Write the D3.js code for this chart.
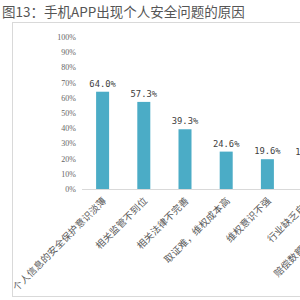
<!DOCTYPE html>
<html>
<head>
<meta charset="utf-8">
<style>
body{ margin:0; background:#fff; }
svg{ display:block; }
.ytick text{ font-family:"Liberation Serif", serif; font-size:8px; fill:#666; }
.val{ font-family:"DejaVu Sans Mono", monospace; font-size:8.8px; fill:#404040; }
.cat{ font-family:"Noto Sans CJK SC", sans-serif; font-size:9.6px; fill:#595959; letter-spacing:0.2px; }
</style>
</head>
<body>
<script src="https://cdn.jsdelivr.net/npm/d3@7/dist/d3.min.js"></script>
<script>
  var WIDTH = 300, HEIGHT = 300;

  var title = "图13：手机APP出现个人安全问题的原因";
  var categories = ["个人信息的安全保护意识淡薄", "相关监管不到位", "相关法律不完善",
                    "取证难，维权成本高", "维权意识不强", "行业缺乏自律", "赔偿数额太低，得不偿失"];
  var values = [0.640, 0.573, 0.393, 0.246, 0.196, 0.188, 0.12];
  var yTicks = [0, 0.1, 0.2, 0.3, 0.4, 0.5, 0.6, 0.7, 0.8, 0.9, 1.0];

  var BAR_W = 13;

  var svg = d3.select("body").append("svg")
    .attr("width", WIDTH)
    .attr("height", HEIGHT);

  // title
  svg.append("text")
    .attr("x", 2).attr("y", 17)
    .style("font-family", "'Noto Sans CJK SC', sans-serif")
    .style("font-size", "13.5px")
    .style("fill", "#555")
    .text(title);

  // chart frame
  svg.append("rect")
    .attr("x", 12.5).attr("y", 22.5)
    .attr("width", 320).attr("height", 274)
    .attr("fill", "none")
    .attr("stroke", "#d9d9d9");

  var xScale = d3.scaleBand()
    .domain(categories)
    .range([82, 82 + categories.length * 41.2]);

  var yScale = d3.scaleLinear()
    .domain([0, 1])
    .range([189, 37]);

  var yAxis = d3.axisLeft(yScale)
    .tickValues(yTicks)
    .tickSize(0)
    .tickPadding(4)
    .tickFormat(d3.format(".0%"));

  var gy = svg.append("g")
    .attr("class", "ytick")
    .attr("transform", "translate(80,0)")
    .call(yAxis);
  gy.select(".domain").remove();

  // baseline
  svg.append("line")
    .attr("x1", xScale.range()[0]).attr("x2", WIDTH)
    .attr("y1", yScale(0) + 0.5).attr("y2", yScale(0) + 0.5)
    .attr("stroke", "#d9d9d9");

  var cx = function(d){ return xScale(d) + xScale.bandwidth() / 2; };

  svg.selectAll("rect.bar")
    .data(categories)
    .enter()
    .append("rect")
      .attr("class", "bar")
      .attr("x", (d) => cx(d) - BAR_W / 2)
      .attr("y", (d, i) => yScale(values[i]))
      .attr("width", BAR_W)
      .attr("height", (d, i) => yScale(0) - yScale(values[i]))
      .attr("fill", "#4bacc6");

  svg.selectAll("text.val")
    .data(categories)
    .enter()
    .append("text")
      .attr("class", "val")
      .attr("x", (d) => cx(d))
      .attr("y", (d, i) => yScale(values[i]) - 5)
      .attr("text-anchor", "middle")
      .text((d, i) => d3.format(".1%")(values[i]));

  svg.selectAll("text.cat")
    .data(categories)
    .enter()
    .append("text")
      .attr("class", "cat")
      .attr("text-anchor", "end")
      .attr("dy", "0.35em")
      .attr("transform", (d) => `translate(${cx(d) + 2},${yScale(0) + 10}) rotate(-45)`)
      .text((d) => d);
</script>
</body>
</html>
